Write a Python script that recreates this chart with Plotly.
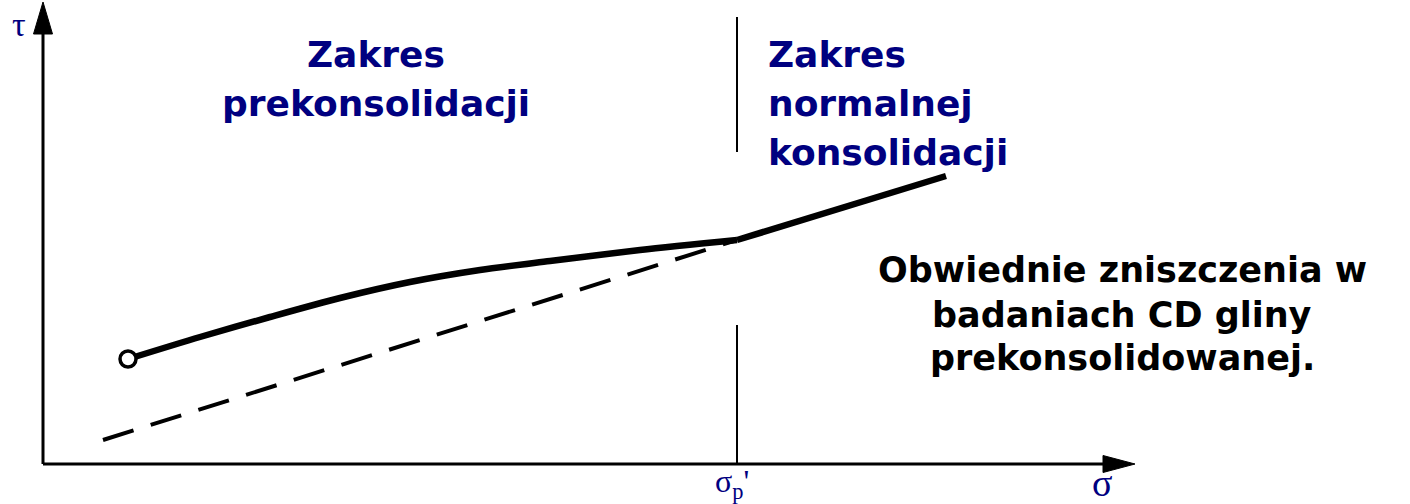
import plotly.graph_objects as go

# Failure envelope of an overconsolidated clay in CD tests (sigma, tau in arbitrary units)
sigma_oc = [8.5, 15.7, 22.7, 29.7, 36.7, 43.7, 50.7, 59.7, 69.4]
tau_oc = [10.5, 12.7, 14.7, 16.6, 18.2, 19.4, 20.3, 21.4, 22.4]
# normally consolidated branch (straight line)
sigma_nc = [69.4, 90.3]
tau_nc = [22.4, 28.8]
# backward extension of the normally consolidated envelope
sigma_ext = [6.0, 69.4]
tau_ext = [2.4, 22.4]
# preconsolidation pressure
sigma_p = 69.4

# axis extents (arrow base / arrow tip)
x_axis_end, x_arrow_tip = 106.0, 109.2
y_axis_end, y_arrow_tip = 43.0, 46.2

NAVY = "#000080"
BLACK = "#000000"

fig = go.Figure()

# dashed extension
fig.add_trace(go.Scatter(
    x=sigma_ext, y=tau_ext, mode="lines",
    line=dict(color=BLACK, width=4, dash="32px,18px"),
    hoverinfo="skip", showlegend=False))

# curved overconsolidated envelope
fig.add_trace(go.Scatter(
    x=sigma_oc, y=tau_oc, mode="lines",
    line=dict(color=BLACK, width=6.5, shape="spline", smoothing=0.8),
    hoverinfo="skip", showlegend=False))

# straight normally consolidated envelope
fig.add_trace(go.Scatter(
    x=sigma_nc, y=tau_nc, mode="lines",
    line=dict(color=BLACK, width=6.5),
    hoverinfo="skip", showlegend=False))

# open circle at the start of the envelope
fig.add_trace(go.Scatter(
    x=[sigma_oc[0]], y=[tau_oc[0]], mode="markers",
    marker=dict(symbol="circle", size=16, color="white",
                line=dict(color=BLACK, width=3.5)),
    hoverinfo="skip", showlegend=False))

# vertical divider at sigma_p'
fig.add_trace(go.Scatter(
    x=[sigma_p, sigma_p, None, sigma_p, sigma_p],
    y=[0, 13.9, None, 31.2, 44.7], mode="lines",
    line=dict(color=BLACK, width=2),
    hoverinfo="skip", showlegend=False))

# axes with arrowheads
shapes = [
    dict(type="line", x0=0, y0=0, x1=x_axis_end, y1=0,
         line=dict(color=BLACK, width=3)),
    dict(type="line", x0=0, y0=0, x1=0, y1=y_axis_end,
         line=dict(color=BLACK, width=3)),
    dict(type="path",
         path=f"M {x_axis_end},-0.85 L {x_arrow_tip},0 L {x_axis_end},0.85 Z",
         fillcolor=BLACK, line=dict(color=BLACK, width=1)),
    dict(type="path",
         path=f"M -0.95,{y_axis_end} L 0,{y_arrow_tip} L 0.95,{y_axis_end} Z",
         fillcolor=BLACK, line=dict(color=BLACK, width=1)),
]

annotations = []


def label(text, x, y, size, color, family, xanchor="center", bold=False):
    t = f"<b>{text}</b>" if bold else text
    annotations.append(dict(
        text=t, x=x, y=y, xref="x", yref="y", showarrow=False,
        xanchor=xanchor, yanchor="middle",
        font=dict(family=family, size=size, color=color)))


SERIF = "Liberation Serif, DejaVu Serif, serif"
SANS = "DejaVu Sans, Verdana, sans-serif"

label("τ", -2.4, 44.0, 34, NAVY, SERIF)
label("σ", 105.9, -1.9, 38, NAVY, SERIF)
label("σ<sub>p</sub>'", 67.0, -1.9, 32, NAVY, SERIF, xanchor="left")

# region headings
left_lines = ["Zakres", "prekonsolidacji"]
right_lines = ["Zakres", "normalnej", "konsolidacji"]
line_y = [41.0, 36.1, 31.2]
for txt, yy in zip(left_lines, line_y):
    label(txt, 33.3, yy, 36, NAVY, SANS, bold=True)
for txt, yy in zip(right_lines, line_y):
    label(txt, 72.3, yy, 36, NAVY, SANS, xanchor="left", bold=True)

# description
desc_lines = ["Obwiednie zniszczenia w", "badaniach CD gliny", "prekonsolidowanej."]
desc_y = [19.4, 14.9, 10.6]
for txt, yy in zip(desc_lines, desc_y):
    label(txt, 107.9, yy, 35, BLACK, SANS, bold=True)

fig.update_layout(
    width=1410, height=504,
    margin=dict(l=0, r=0, t=0, b=0),
    paper_bgcolor="white", plot_bgcolor="white",
    xaxis=dict(range=[-4.3, 136.7], visible=False, fixedrange=True),
    yaxis=dict(range=[-4.0, 46.4], visible=False, fixedrange=True),
    shapes=shapes, annotations=annotations,
    showlegend=False,
)

fig.write_html("out.html")
